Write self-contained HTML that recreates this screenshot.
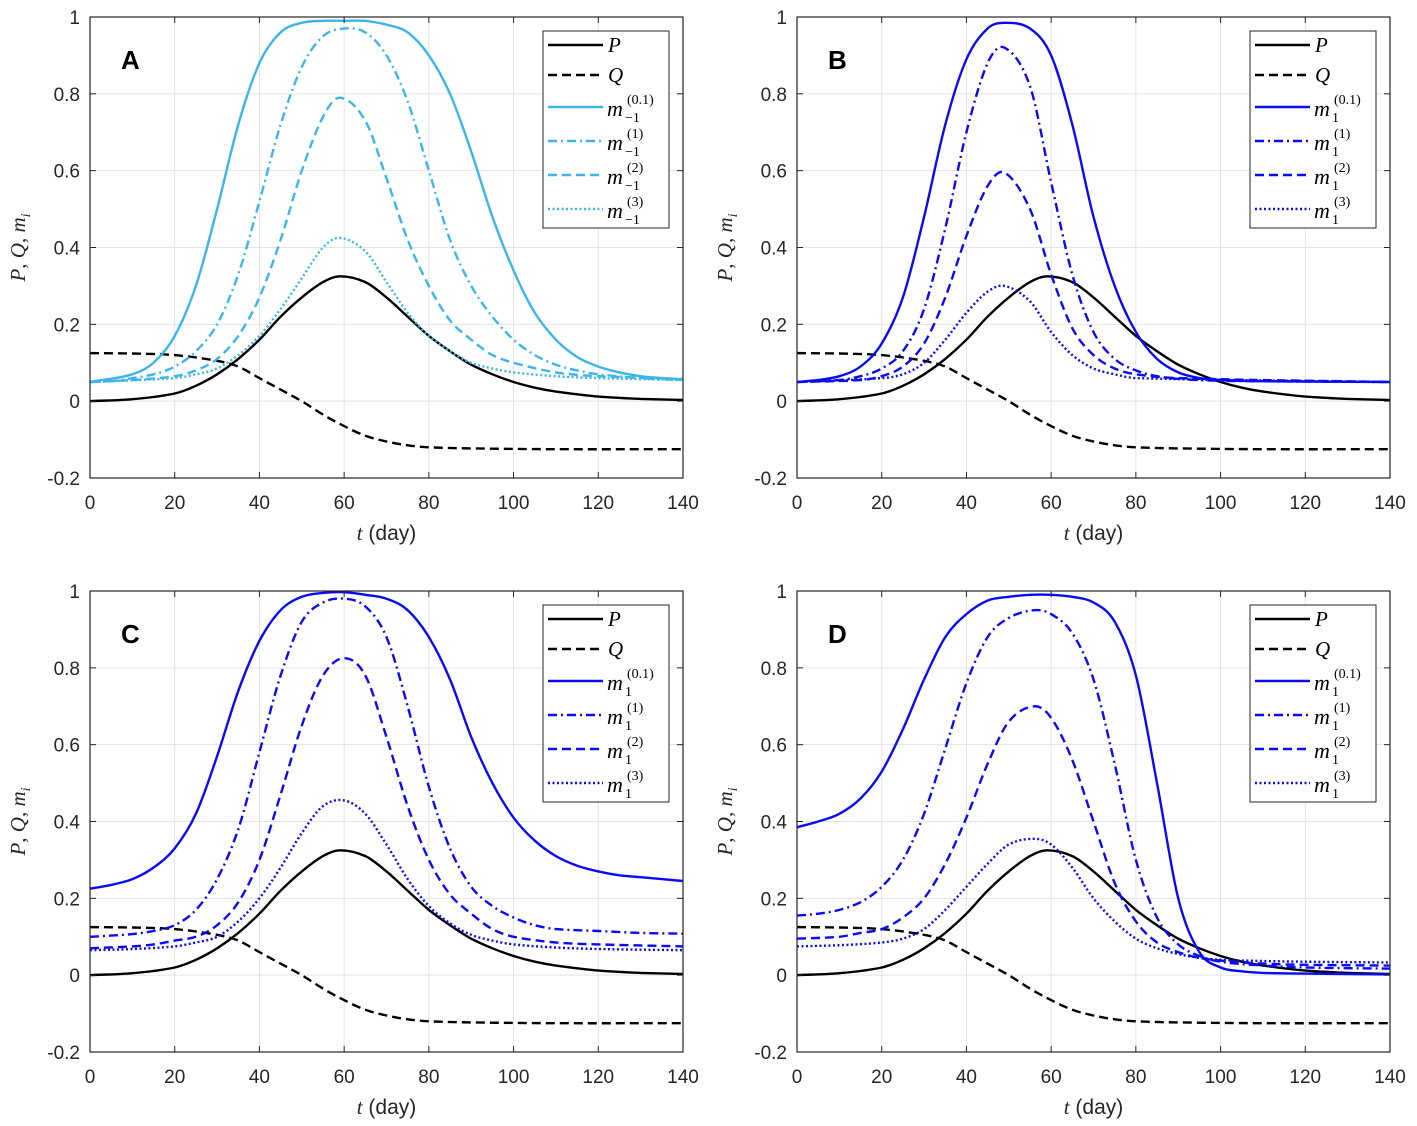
<!DOCTYPE html>
<html><head><meta charset="utf-8"><style>
html,body{margin:0;padding:0;background:#fff}
svg{display:block}
text{font-family:"Liberation Sans",Arial,sans-serif}
.tick{font-size:19px;fill:#262626}
.ser{font-family:"Liberation Serif",serif;font-style:italic;fill:#000}
.rom{font-family:"Liberation Serif",serif;fill:#000}
</style></head><body>
<svg id="chart" width="1417" height="1126" viewBox="0 0 1417 1126"></svg>
<script>
// ---- data ----
const xTicks=[0,20,40,60,80,100,120,140];
const yTicks=[-0.2,0,0.2,0.4,0.6,0.8,1];
const yTickLabels=["-0.2","0","0.2","0.4","0.6","0.8","1"];
const panelLetters=["A","B","C","D"];
const seriesP=[[0,0],[10,0.005],[20,0.02],[25,0.04],[30,0.07],[35,0.11],[40,0.16],[45,0.22],[50,0.27],[55,0.31],[59,0.325],[65,0.31],[70,0.27],[75,0.22],[80,0.17],[85,0.13],[90,0.095],[95,0.07],[100,0.05],[105,0.035],[110,0.025],[120,0.012],[130,0.006],[140,0.003]];
const seriesQ=[[0,0.125],[10,0.124],[20,0.12],[30,0.105],[35,0.09],[40,0.06],[45,0.03],[50,0.0],[55,-0.035],[60,-0.065],[65,-0.09],[70,-0.105],[75,-0.115],[80,-0.12],[90,-0.123],[110,-0.125],[140,-0.125]];
const A_m01=[[0,0.05],[10,0.07],[15,0.1],[20,0.17],[25,0.3],[30,0.5],[35,0.72],[40,0.88],[45,0.96],[50,0.985],[55,0.99],[60,0.99],[65,0.99],[70,0.98],[75,0.96],[80,0.9],[85,0.8],[90,0.65],[95,0.48],[100,0.34],[105,0.23],[110,0.16],[115,0.115],[120,0.09],[125,0.075],[130,0.065],[135,0.06],[140,0.057]];
const A_m1=[[0,0.05],[5,0.052],[10,0.06],[15,0.07],[20,0.09],[25,0.13],[30,0.2],[35,0.33],[40,0.52],[45,0.72],[50,0.87],[55,0.95],[60,0.97],[65,0.96],[70,0.9],[75,0.78],[80,0.6],[85,0.42],[90,0.3],[95,0.22],[100,0.16],[105,0.12],[110,0.095],[115,0.08],[120,0.07],[130,0.06],[140,0.055]];
const A_m2=[[0,0.05],[10,0.055],[20,0.065],[25,0.08],[30,0.11],[35,0.17],[40,0.27],[45,0.42],[50,0.6],[55,0.74],[59,0.79],[65,0.73],[70,0.58],[75,0.42],[80,0.3],[85,0.21],[90,0.16],[95,0.12],[100,0.1],[110,0.075],[120,0.065],[140,0.058]];
const A_m3=[[0,0.05],[20,0.06],[25,0.07],[30,0.085],[35,0.12],[40,0.17],[45,0.24],[50,0.32],[55,0.4],[59,0.425],[65,0.39],[70,0.31],[75,0.23],[80,0.17],[85,0.13],[90,0.1],[95,0.085],[100,0.075],[110,0.065],[120,0.06],[140,0.055]];
const B_m01=[[0,0.05],[5,0.055],[10,0.065],[15,0.09],[20,0.15],[25,0.27],[30,0.48],[35,0.72],[40,0.89],[45,0.97],[49,0.985],[55,0.97],[60,0.9],[65,0.72],[70,0.48],[75,0.3],[80,0.18],[85,0.11],[90,0.075],[95,0.06],[100,0.055],[110,0.052],[140,0.05]];
const B_m1=[[0,0.05],[10,0.055],[15,0.065],[20,0.085],[25,0.13],[30,0.24],[35,0.45],[40,0.7],[45,0.88],[49,0.92],[55,0.82],[60,0.57],[65,0.33],[70,0.18],[75,0.11],[80,0.08],[85,0.065],[90,0.058],[100,0.053],[140,0.05]];
const B_m2=[[0,0.05],[15,0.055],[20,0.065],[25,0.09],[30,0.15],[35,0.27],[40,0.43],[45,0.56],[49,0.595],[55,0.5],[60,0.33],[65,0.19],[70,0.12],[75,0.085],[80,0.07],[90,0.06],[140,0.05]];
const B_m3=[[0,0.05],[20,0.06],[25,0.07],[30,0.1],[35,0.16],[40,0.23],[45,0.285],[49,0.3],[55,0.26],[60,0.18],[65,0.12],[70,0.085],[75,0.07],[80,0.06],[140,0.05]];
const C_m01=[[0,0.225],[5,0.235],[10,0.25],[15,0.28],[20,0.33],[25,0.42],[30,0.57],[35,0.74],[40,0.87],[45,0.95],[50,0.985],[55,0.995],[60,0.997],[65,0.99],[70,0.98],[75,0.95],[80,0.88],[85,0.77],[90,0.62],[95,0.5],[100,0.41],[105,0.35],[110,0.31],[115,0.285],[120,0.27],[125,0.26],[130,0.255],[135,0.25],[140,0.245]];
const C_m1=[[0,0.1],[5,0.103],[10,0.107],[15,0.115],[20,0.13],[25,0.17],[30,0.25],[35,0.38],[40,0.58],[45,0.78],[50,0.92],[55,0.97],[60,0.98],[65,0.96],[70,0.88],[75,0.7],[80,0.49],[85,0.33],[90,0.23],[95,0.18],[100,0.15],[105,0.13],[110,0.12],[120,0.115],[130,0.11],[140,0.108]];
const C_m2=[[0,0.07],[10,0.075],[15,0.08],[20,0.09],[25,0.1],[30,0.13],[35,0.19],[40,0.3],[45,0.47],[50,0.65],[55,0.78],[60,0.825],[65,0.78],[70,0.62],[75,0.44],[80,0.3],[85,0.21],[90,0.16],[95,0.12],[100,0.1],[110,0.085],[120,0.08],[140,0.075]];
const C_m3=[[0,0.065],[10,0.068],[20,0.075],[25,0.085],[30,0.1],[35,0.14],[40,0.2],[45,0.28],[50,0.37],[55,0.44],[60,0.455],[65,0.42],[70,0.34],[75,0.25],[80,0.18],[85,0.135],[90,0.105],[95,0.09],[100,0.08],[110,0.072],[120,0.068],[140,0.065]];
const D_m01=[[0,0.385],[5,0.4],[10,0.42],[15,0.46],[20,0.53],[25,0.64],[30,0.77],[35,0.88],[40,0.94],[45,0.975],[50,0.985],[55,0.99],[60,0.99],[65,0.985],[70,0.97],[75,0.92],[80,0.78],[85,0.5],[90,0.2],[95,0.06],[100,0.02],[105,0.01],[110,0.006],[120,0.004],[140,0.002]];
const D_m1=[[0,0.155],[5,0.16],[10,0.17],[15,0.19],[20,0.23],[25,0.3],[30,0.42],[35,0.59],[40,0.76],[45,0.88],[50,0.93],[56,0.95],[60,0.94],[65,0.89],[70,0.77],[75,0.55],[80,0.3],[85,0.15],[90,0.08],[95,0.05],[100,0.035],[110,0.025],[120,0.02],[140,0.017]];
const D_m2=[[0,0.095],[10,0.1],[15,0.11],[20,0.12],[25,0.15],[30,0.2],[35,0.29],[40,0.41],[45,0.55],[50,0.66],[56,0.7],[60,0.67],[65,0.56],[70,0.4],[75,0.24],[80,0.14],[85,0.085],[90,0.06],[95,0.045],[100,0.038],[110,0.03],[120,0.027],[140,0.025]];
const D_m3=[[0,0.075],[10,0.078],[20,0.085],[25,0.095],[30,0.12],[35,0.17],[40,0.23],[45,0.29],[50,0.34],[56,0.355],[60,0.34],[65,0.28],[70,0.2],[75,0.14],[80,0.095],[85,0.07],[90,0.055],[95,0.045],[100,0.04],[110,0.037],[120,0.035],[140,0.033]];

const NS="http://www.w3.org/2000/svg";
const svg=document.getElementById('chart');
function mk(tag,attrs,parent){const e=document.createElementNS(NS,tag);for(const k in attrs)e.setAttribute(k,attrs[k]);(parent||svg).appendChild(e);return e;}
// smooth path with x-aware tangents (handles uneven sampling)
function pathFrom(pts){
  const n=pts.length, m=[];
  for(let i=0;i<n;i++){
    const a=pts[Math.max(0,i-1)], b=pts[Math.min(n-1,i+1)];
    m.push((b[1]-a[1])/(b[0]-a[0]));
  }
  let d="M"+pts[0][0].toFixed(1)+","+pts[0][1].toFixed(1);
  for(let i=0;i<n-1;i++){
    const p1=pts[i],p2=pts[i+1],h=(p2[0]-p1[0])/3;
    d+=" C"+(p1[0]+h).toFixed(1)+","+(p1[1]+m[i]*h).toFixed(1)+" "+(p2[0]-h).toFixed(1)+","+(p2[1]-m[i+1]*h).toFixed(1)+" "+p2[0].toFixed(1)+","+p2[1].toFixed(1);
  }
  return d;
}
const dashes={solid:"",dashed:"9,5",dashdot:"9,4,2,4",dotted:"2,2.5"};
function panel(idx,x0,x1,yT,yB,color,ms,sub){
  const g=mk('g',{});
  
  
  const sx=t=>x0+(t/140)*(x1-x0);
  const sy=v=>yT+(1-v)/1.2*(yB-yT);
  xTicks.forEach(t=>{const l=mk('line',{x1:sx(t),x2:sx(t),y1:yT,y2:yB,stroke:'#e3e3e3','stroke-width':1},g);});
  yTicks.forEach(v=>{const l=mk('line',{x1:x0,x2:x1,y1:sy(v),y2:sy(v),stroke:'#e3e3e3','stroke-width':1},g);});
  const series=[[seriesP,'#000','solid'],[seriesQ,'#000','dashed'],[ms[0],color,'solid'],[ms[1],color,'dashdot'],[ms[2],color,'dashed'],[ms[3],color,'dotted']];
  const names=['p','q','m-0.1','m-1','m-2','m-3'];
  series.forEach((s,i)=>{
    const pts=s[0].map(p=>[sx(p[0]),sy(p[1])]);
    const e=mk('path',{d:pathFrom(pts),fill:'none',stroke:s[1],'stroke-width':2.4,'stroke-dasharray':dashes[s[2]]},g);
    
    
  });
  const b=mk('rect',{x:x0,y:yT,width:x1-x0,height:yB-yT,fill:'none',stroke:'#262626','stroke-width':1.2},g);
  
  xTicks.forEach(t=>{
    mk('line',{x1:sx(t),x2:sx(t),y1:yB,y2:yB-6,stroke:'#262626'},g);
    mk('line',{x1:sx(t),x2:sx(t),y1:yT,y2:yT+6,stroke:'#262626'},g);
    const tx=mk('text',{x:sx(t),y:yB+31,'text-anchor':'middle',class:'tick'},g);tx.textContent=t;
    
  });
  yTicks.forEach((v,i)=>{
    mk('line',{x1:x0,x2:x0+6,y1:sy(v),y2:sy(v),stroke:'#262626'},g);
    mk('line',{x1:x1,x2:x1-6,y1:sy(v),y2:sy(v),stroke:'#262626'},g);
    const tx=mk('text',{x:x0-10,y:sy(v)+7,'text-anchor':'end',class:'tick'},g);tx.textContent=yTickLabels[i];
    
  });
  const xl=mk('text',{x:(x0+x1)/2,y:yB+62,'text-anchor':'middle',style:'font-size:21px;fill:#262626'},g);
  xl.innerHTML='<tspan style="font-family:\'Liberation Serif\',serif;font-style:italic">t</tspan> (day)';
  
  const yl=mk('text',{transform:`translate(${x0-65},${(yT+yB)/2}) rotate(-90)`,'text-anchor':'middle',class:'ser',style:'font-size:21px;fill:#262626'},g);
  yl.innerHTML='P<tspan font-style="normal">, </tspan>Q<tspan font-style="normal">, </tspan>m<tspan font-size="14" dy="5">i</tspan>';
  
  const pl=mk('text',{x:x0+31,y:yT+52,style:'font-size:26px;font-weight:bold;fill:#000'},g);pl.textContent=panelLetters[idx];
  
  const lx=x0+453,ly=yT+14;
  const lg=mk('g',{},g);
  
  mk('rect',{x:lx,y:ly,width:126,height:197,fill:'#fff',stroke:'#262626','stroke-width':1},lg);
  const rows=[28,58,90,124,158,192];
  const sups=['(0.1)','(1)','(2)','(3)'];
  series.forEach((s,i)=>{
    const ry=yT+rows[i];
    const e=mk('g',{},lg);
    
    mk('line',{x1:lx+5,x2:lx+60,y1:ry,y2:ry,stroke:s[1],'stroke-width':2.4,'stroke-dasharray':dashes[s[2]]},e);
    if(i<2){
      const t=mk('text',{x:lx+65,y:ry+7,class:'ser',style:'font-size:21px'},e);
      t.textContent=i===0?'P':'Q';
    } else {
      const t=mk('text',{x:lx+64,y:ry+9,class:'ser',style:'font-size:22px'},e);t.textContent='m';
      const sb=mk('text',{x:lx+82,y:ry+15,class:'rom',style:'font-size:14px'},e);sb.textContent=sub;
      const sp=mk('text',{x:lx+84,y:ry-3,class:'rom',style:'font-size:14px'},e);sp.textContent=sups[i-2];
    }
  });
}
const light='#3db5e8',blue='#0a0af5';
panel(0,90,683,17,478,light,[A_m01,A_m1,A_m2,A_m3],'\u22121');
panel(1,797,1390,17,478,blue,[B_m01,B_m1,B_m2,B_m3],'1');
panel(2,90,683,591,1052,blue,[C_m01,C_m1,C_m2,C_m3],'1');
panel(3,797,1390,591,1052,blue,[D_m01,D_m1,D_m2,D_m3],'1');
</script>
</body></html>
